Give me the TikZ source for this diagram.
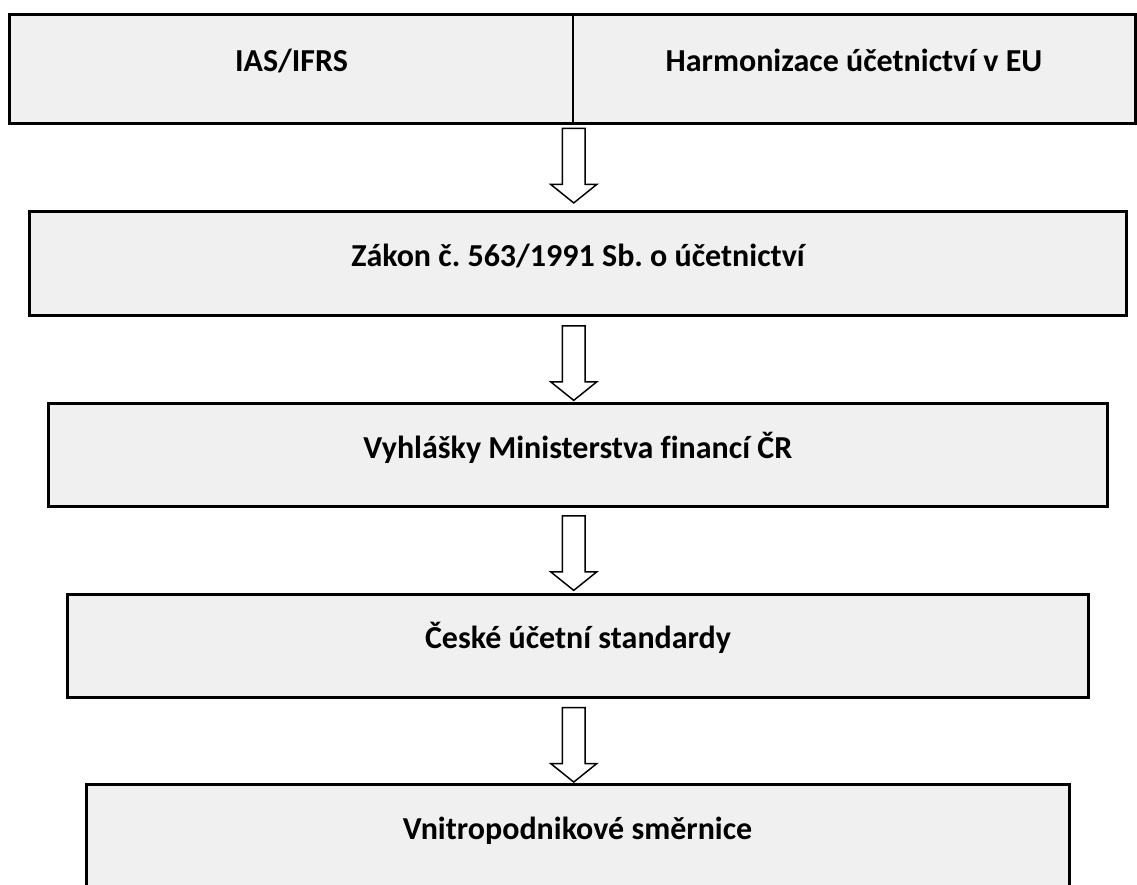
\documentclass[tikz,border=0pt]{standalone}
\usepackage{fontspec}
\setmainfont{Carlito}[Ligatures=CommonOff]
\usetikzlibrary{calc}
\frenchspacing

% hollow arrow hanging below the box #1, starting #2 under it
\newcommand{\blockarrow}[2]{%
  \draw[hollow] let \p1=($(axis |- #1.south)+(0,-#2)$) in
    (\x1-8.6pt,\y1) -- (\x1+8.6pt,\y1) -- (\x1+8.6pt,\y1-42pt)
    -- (\x1+17.3pt,\y1-42pt) -- (\x1,\y1-55.9pt) -- (\x1-17.3pt,\y1-42pt)
    -- (\x1-8.6pt,\y1-42pt) -- cycle;}

\begin{document}
\begin{tikzpicture}[x=0.75pt,y=-0.75pt]
\tikzset{krabice/.style={draw, line width=2.25pt, fill={rgb,255:red,240;green,240;blue,240},
    rectangle, minimum height=77pt, inner sep=0pt, font=\fontsize{24}{29}\selectfont\bfseries,
    text height=15pt, text depth=10.5pt},
  bunka/.style={krabice, line width=1.1pt, minimum height=81pt},
  hollow/.style={draw, fill=white, line width=1.1pt, line join=miter}}
\clip (0, 0) rectangle (1137, 884);
\node[bunka, minimum width=422.25pt] (ias) at (291.5, 69) {IAS/IFRS};
\node[bunka, minimum width=421.5pt] (harm) at (854, 69) {Harmonizace účetnictví v EU};
\draw[line width=2.25pt] (ias.north west) rectangle (harm.south east);
\coordinate (axis) at (ias.south east);
\node[krabice, minimum width=823pt, minimum height=77.9pt] (zakon) at (578, 263.4) {Zákon č. 563/1991 Sb. o účetnictví};
\node[krabice, minimum width=794.25pt] (vyhl) at (577.8, 455) {Vyhlášky Ministerstva financí ČR};
\node[krabice, minimum width=765.5pt] (csu) at (578, 645.7) {České účetní standardy};
\node[krabice, minimum width=737.25pt] (smer) at (577.5, 836.2) {Vnitropodnikové směrnice};
\blockarrow{ias}{3.5pt}
\blockarrow{zakon}{6.75pt}
\blockarrow{vyhl}{6pt}
\blockarrow{csu}{6.75pt}
\end{tikzpicture}
\end{document}
